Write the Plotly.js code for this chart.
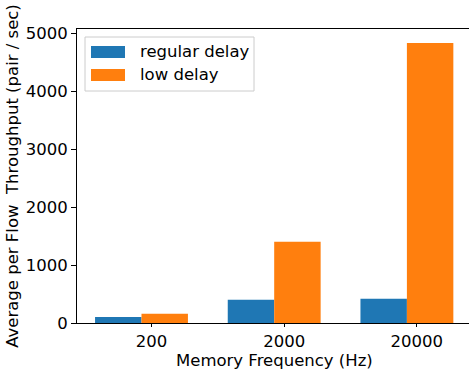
<!DOCTYPE html>
<html>
<head>
<meta charset="utf-8">
<script src="https://cdn.plot.ly/plotly-3.0.1.min.js"></script>
<style>html,body{margin:0;padding:0;background:#fff;}#chart{width:469px;height:371px;}</style>
</head>
<body>
<div id="chart"></div>
<script>
const categories = ["200", "2000", "20000"];
const regularDelay = [105, 402, 419];
const lowDelay = [160, 1402, 4833];
const seriesNames = ["regular delay", "low delay"];
const colors = ["#1f77b4", "#ff7f0e"];
const barWidth = 0.35;

const idx = categories.map((c, i) => i);
const traces = [
  {type: "bar", x: idx, y: regularDelay, width: barWidth, name: seriesNames[0],
   marker: {color: colors[0], line: {width: 0}}, showlegend: false},
  {type: "bar", x: idx.map(i => i + barWidth), y: lowDelay, width: barWidth, name: seriesNames[1],
   marker: {color: colors[1], line: {width: 0}}, showlegend: false}
];

const font = {family: "DejaVu Sans", size: 16.5, color: "#000"};
const W = 469, H = 371, L = 77, R = 0, T = 29, B = 48;
const pw = W - L - R, ph = H - T - B;
const px = x => (x - L) / pw;
const py = y => 1 - (y - T) / ph;
const shapes = [
  {type: "path", xref: "paper", yref: "paper",
   path: (() => {
     const x0 = px(85), x1 = px(254), y0 = py(37), y1 = py(91);
     return `M${x0},${y0} L${x1},${y0} L${x1},${y1} L${x0},${y1} Z`;
   })(),
   line: {color: "#cccccc", width: 1}, fillcolor: "rgba(255,255,255,0.8)"},
];
const annotations = [];
seriesNames.forEach((n, k) => {
  const cy = 52 + k * 23;
  shapes.push({type: "rect", xref: "paper", yref: "paper",
    x0: px(91), x1: px(125), y0: py(cy - 6), y1: py(cy + 6),
    line: {width: 0}, fillcolor: colors[k]});
  annotations.push({xref: "paper", yref: "paper", x: px(138), y: py(cy),
    xanchor: "left", yanchor: "middle", text: n, showarrow: false, font: font});
});
annotations.push({xref: "paper", yref: "paper", x: px(274), y: py(371),
  xanchor: "center", yanchor: "bottom", borderpad: 0,
  text: "Memory Frequency (Hz)", showarrow: false, font: font});

const layout = {
  width: W, height: H,
  margin: {l: L, r: R, t: T, b: B, pad: 0},
  paper_bgcolor: "#fff", plot_bgcolor: "#fff",
  font: font,
  barmode: "overlay",
  showlegend: false,
  xaxis: {
    range: [-0.311, 2.643],
    tickvals: idx.map(i => i + 0.25), ticktext: categories,
    ticks: "outside", ticklen: 3, tickwidth: 1, tickcolor: "#000",
    showline: true, linecolor: "#000", linewidth: 1, mirror: true,
    showgrid: false, zeroline: false
  },
  yaxis: {
    range: [0, 5075],
    tickvals: [0, 1000, 2000, 3000, 4000, 5000],
    ticks: "outside", ticklen: 5, tickwidth: 1, tickcolor: "#000",
    showline: true, linecolor: "#000", linewidth: 1,
    showgrid: false, zeroline: false,
    title: {text: "Average per Flow  Throughput (pair / sec)", font: font, standoff: 2}
  },
  shapes: shapes,
  annotations: annotations
};

Plotly.newPlot("chart", traces, layout, {staticPlot: true, displayModeBar: false});
</script>
</body>
</html>
